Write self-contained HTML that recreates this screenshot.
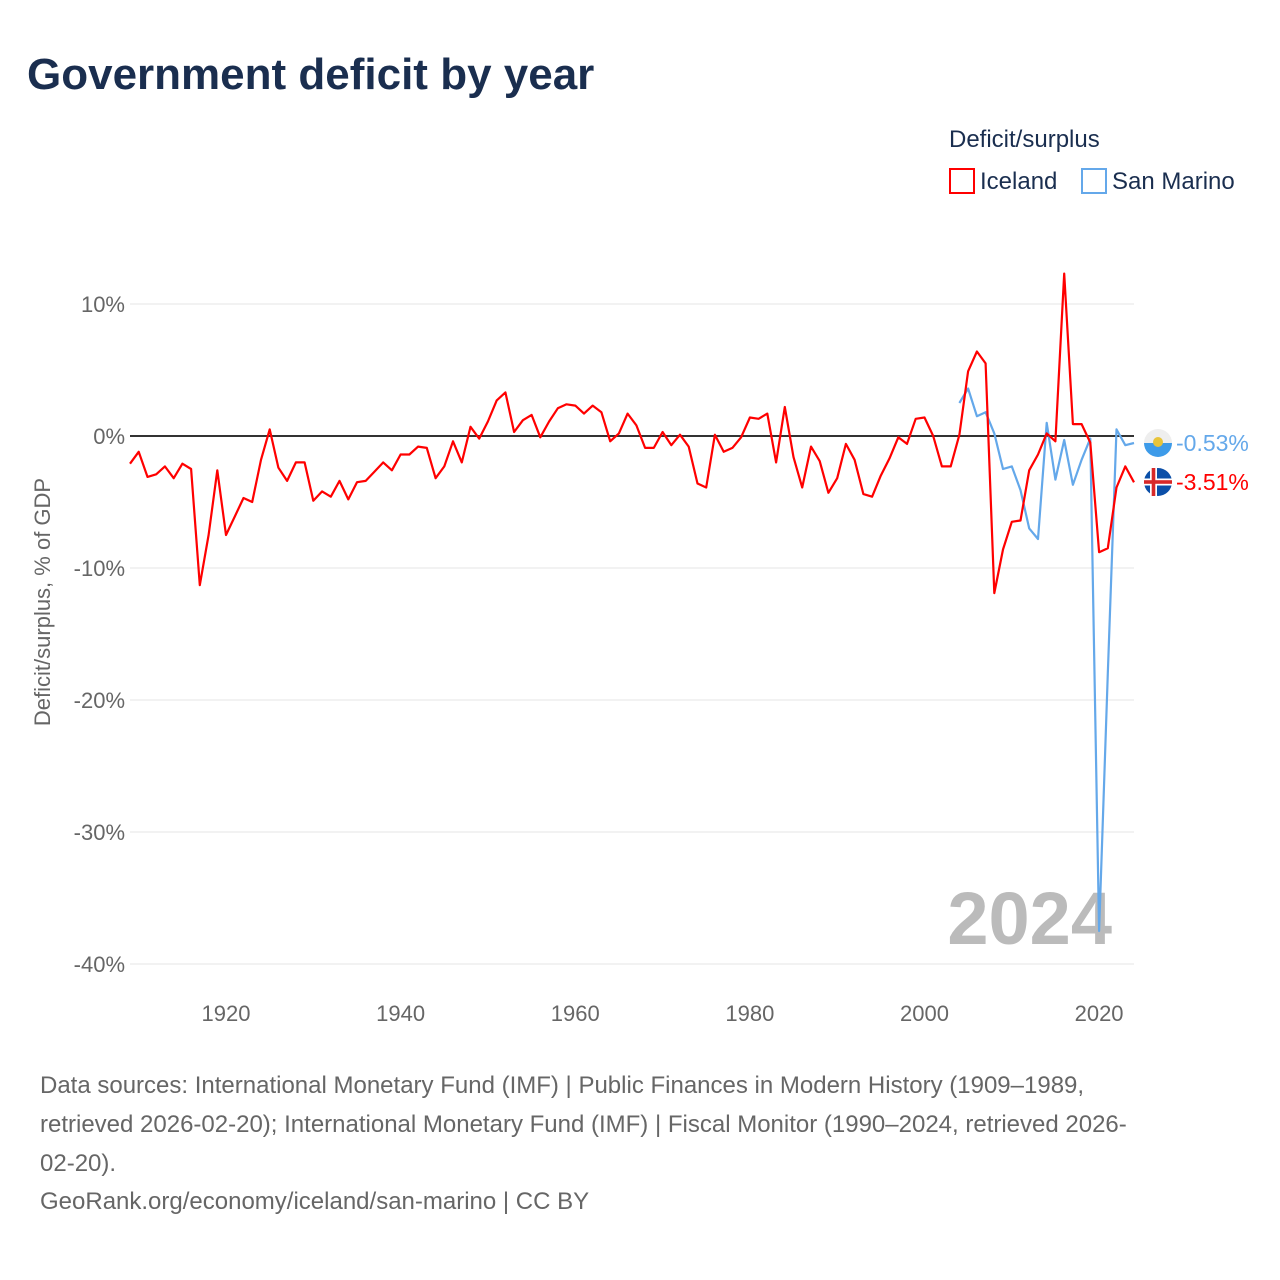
<!DOCTYPE html>
<html><head><meta charset="utf-8">
<style>
body{margin:0;background:#fff;font-family:"Liberation Sans",sans-serif;}
#wrap{position:relative;width:1280px;height:1280px;}
h1{position:absolute;left:27px;top:50px;margin:0;font-size:44px;font-weight:bold;color:#1a2e4f;letter-spacing:0px;}
.foot{position:absolute;left:40px;color:#666;font-size:24px;line-height:39px;white-space:nowrap;}
</style></head><body>
<div id="wrap">
<h1>Government deficit by year</h1>
<svg id="chart" width="1280" height="1280" style="position:absolute;left:0;top:0"></svg>
<div class="foot" style="top:1066px">Data sources: International Monetary Fund (IMF) | Public Finances in Modern History (1909–1989,<br>retrieved 2026-02-20); International Monetary Fund (IMF) | Fiscal Monitor (1990–2024, retrieved 2026-<br>02-20).</div>
<div class="foot" style="top:1182px">GeoRank.org/economy/iceland/san-marino | CC BY</div>
</div>
<script>
const icelandStart = 1909;
const icelandValues = [-2.1,-1.2,-3.1,-2.9,-2.3,-3.2,-2.1,-2.5,-11.3,-7.5,-2.6,-7.5,-6.1,-4.7,-5.0,-1.8,0.5,-2.4,-3.4,-2.0,-2.0,-4.9,-4.2,-4.6,-3.4,-4.8,-3.5,-3.4,-2.7,-2.0,-2.6,-1.4,-1.4,-0.8,-0.9,-3.2,-2.3,-0.4,-2.0,0.7,-0.2,1.1,2.7,3.3,0.3,1.2,1.6,-0.1,1.1,2.1,2.4,2.3,1.7,2.3,1.8,-0.4,0.2,1.7,0.8,-0.9,-0.9,0.3,-0.7,0.1,-0.8,-3.6,-3.9,0.1,-1.2,-0.9,-0.1,1.4,1.3,1.7,-2.0,2.2,-1.6,-3.9,-0.8,-1.9,-4.3,-3.2,-0.6,-1.8,-4.4,-4.6,-3.0,-1.7,-0.1,-0.6,1.3,1.4,0,-2.3,-2.3,0.1,4.9,6.4,5.5,-11.9,-8.6,-6.5,-6.4,-2.6,-1.4,0.2,-0.4,12.3,0.9,0.9,-0.5,-8.8,-8.5,-3.9,-2.3,-3.51];
const sanMarinoStart = 2004;
const sanMarinoValues = [2.5,3.6,1.5,1.8,0.2,-2.5,-2.3,-4.1,-7.0,-7.8,1.0,-3.3,-0.3,-3.7,-1.8,-0.2,-37.5,-18,0.5,-0.7,-0.53];
const yTicks = [10,0,-10,-20,-30,-40];
const xTicks = [1920,1940,1960,1980,2000,2020];

const NS="http://www.w3.org/2000/svg";
const svg=document.getElementById('chart');
const xS=y=>130+(y-1909)*(1004/115);
const yS=v=>436-v*13.2;
function el(t,a,txt){const e=document.createElementNS(NS,t);for(const k in a)e.setAttribute(k,a[k]);if(txt!==undefined)e.textContent=txt;svg.appendChild(e);return e;}
const F='"Liberation Sans",sans-serif';
yTicks.forEach(v=>{
  if(v!==0){const g=el('line',{x1:130,x2:1134,y1:yS(v),y2:yS(v),stroke:'#e6e6e6','stroke-width':1});
  
  }
  const t=el('text',{x:125,y:yS(v)+8,'text-anchor':'end','font-size':22,fill:'#666','font-family':F},v+'%');
  
  
});
xTicks.forEach(y=>{
  const t=el('text',{x:xS(y),y:1021,'text-anchor':'middle','font-size':22,fill:'#666','font-family':F},y);
  
  
});
const yt=el('text',{transform:'translate(50,602) rotate(-90)','text-anchor':'middle','font-size':22,fill:'#666','font-family':F},'Deficit/surplus, % of GDP');


const yr=el('text',{x:1112,y:944,'text-anchor':'end','font-size':74,'font-weight':'bold',fill:'#bbb','font-family':F},'2024');


const zl=el('line',{x1:130,x2:1134,y1:yS(0),y2:yS(0),stroke:'#333','stroke-width':2});


function series(vals,start,color,name){
  const pts=vals.map((v,i)=>xS(start+i).toFixed(1)+','+yS(v).toFixed(1)).join(' ');
  const p=el('polyline',{points:pts,fill:'none',stroke:color,'stroke-width':2.2,'stroke-linejoin':'round'});
  
  
}
series(sanMarinoValues,sanMarinoStart,'#64a8ea','san-marino-line');
series(icelandValues,icelandStart,'#ff0000','iceland-line');
const smV=sanMarinoValues[sanMarinoValues.length-1], isV=icelandValues[icelandValues.length-1];
const smY=443, isY=482;
const c1=el('circle',{cx:1158,cy:smY,r:14,fill:'#eee'});


el('path',{d:`M1144 ${smY} A14 14 0 0 0 1172 ${smY} Z`,fill:'#3d9be9'});
el('circle',{cx:1158,cy:smY-1,r:5,fill:'#e8c43a'});
const c2=el('circle',{cx:1158,cy:isY,r:14,fill:'#0b4fa8'});


el('rect',{x:1144,y:isY-3.5,width:28,height:7,fill:'#fff'});
el('rect',{x:1150,y:isY-14,width:7,height:28,fill:'#fff'});
el('rect',{x:1144,y:isY-1.8,width:28,height:3.6,fill:'#d72828'});
el('rect',{x:1151.7,y:isY-14,width:3.6,height:28,fill:'#d72828'});
const l1=el('text',{x:1176,y:smY+8,'font-size':23,fill:'#64a8ea','font-family':F},smV.toFixed(2)+'%');


const l2=el('text',{x:1176,y:isY+8,'font-size':23,fill:'#ff0000','font-family':F},isV.toFixed(2)+'%');


const lt=el('text',{x:949,y:147,'font-size':24,fill:'#1a2e4f','font-family':F},'Deficit/surplus');


const r1=el('rect',{x:950,y:169,width:24,height:24,fill:'none',stroke:'#ff0000','stroke-width':2});


const t1=el('text',{x:980,y:189,'font-size':24,fill:'#1a2e4f','font-family':F},'Iceland');


const r2=el('rect',{x:1082,y:169,width:24,height:24,fill:'none',stroke:'#64a8ea','stroke-width':2});


const t2=el('text',{x:1112,y:189,'font-size':24,fill:'#1a2e4f','font-family':F},'San Marino');


</script>
</body></html>
